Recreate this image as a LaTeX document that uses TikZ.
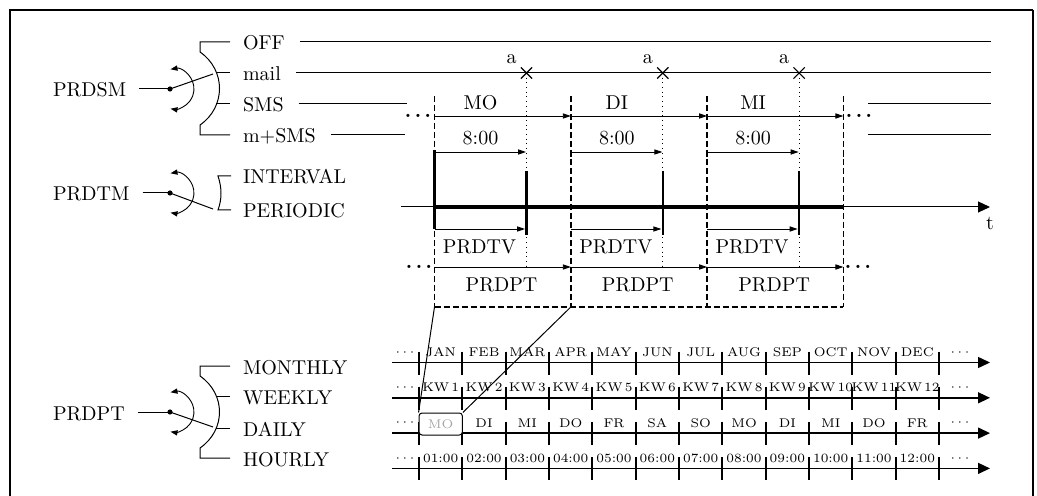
\documentclass[tikz,border=0pt]{standalone}
\usepackage{tikz}
\usetikzlibrary{arrows.meta,positioning,shapes.misc}

\begin{document}
\begin{tikzpicture}[x=0.5pt, y=0.5pt, every node/.style={font=\normalsize},
        wire/.style={line width=0.5pt},
        frame/.style={line width=1.2pt},
        arr/.style={-{Triangle[length=4pt,width=2.6pt]}, line width=0.45pt},
        twoarr/.style={<->, >={Triangle[length=3.5pt,width=2.6pt]}, line width=0.45pt},
        bigarr/.style={-{Triangle[length=6pt,width=5.5pt]}, line width=0.7pt},
        dashline/.style={dash pattern=on 3pt off 1.5pt, line width=0.7pt},
        dotline/.style={dotted, line width=0.35pt},
        bar/.style={line width=1.3pt},
        tick/.style={line width=0.9pt},
        xmark/.style={cross out, draw, line width=0.6pt, minimum size=5pt, inner sep=0pt},
        lbl/.style={anchor=west, text height=8pt, text depth=0pt},
        small/.style={font=\fontsize{6.3}{7}\selectfont, inner sep=0pt},
        dots/.style={anchor=base, inner sep=0pt, font=\fontsize{11}{11}\selectfont\bfseries}]
        \useasboundingbox (0,0) rectangle (1037,-496);
        \draw[frame] (10,-496) -- (10,-10) -- (1033,-10);
        \draw[line width=0.8pt] (1033,-10) -- (1033,-496);

        % switches
        \foreach \nm/\yc/\yk in {PRDSM/89/74, PRDTM/193/209, PRDPT/412/427} {
          \node[lbl] (sw\nm) at (46,-\yc) {\nm};
          \coordinate (dot\nm) at (170,-\yc);
          \coordinate (con\nm) at (213,-\yk);
          \draw[wire] ([xshift=3pt]sw\nm.east) -- (dot\nm);
          \fill (dot\nm) circle (2.6);
          \draw[twoarr] ([shift={(0.5,19.7)}]dot\nm) arc[start angle=100, end angle=-100, radius=20];
          \draw[wire] (dot\nm) -- (con\nm);
        }

        % brackets
        \draw[wire] (230,-42) -- (200,-42) -- (200,-52) .. controls (226,-70) and (226,-107) .. (200,-125) -- (200,-135) -- (230,-135);
        \draw[wire] (216.4,-73) -- (230,-73) (216.4,-104) -- (230,-104);
        \draw[wire] (231,-176) -- (218,-176) .. controls (222,-188) and (222,-199) .. (218,-210) -- (231,-210);
        \draw[wire] (230,-366) -- (200,-366) -- (200,-376) .. controls (226,-394) and (226,-430) .. (200,-448) -- (200,-458) -- (230,-458);
        \draw[wire] (216.4,-396) -- (230,-396) (216.4,-428) -- (230,-428);

        \node[lbl] (off) at (236,-42) {OFF};
        \node[lbl] (mail) at (236,-73) {mail};
        \node[lbl] (sms) at (236,-104) {SMS};
        \node[lbl] (msms) at (236,-135) {m+SMS};
        \node[lbl] (interval) at (236,-176) {INTERVAL};
        \node[lbl] (periodic) at (236,-210) {PERIODIC};
        \node[lbl] (monthly) at (236,-366) {MONTHLY};
        \node[lbl] (weekly) at (236,-396) {WEEKLY};
        \node[lbl] (daily) at (236,-428) {DAILY};
        \node[lbl] (hourly) at (236,-458) {HOURLY};

        % message lines
        \coordinate (offR) at (991,-42);
        \coordinate (mailR) at (991,-73);
        \coordinate (smsA) at (407,-104);
        \coordinate (smsB) at (868,-104);
        \coordinate (smsR) at (991,-104);
        \coordinate (msmsA) at (405,-135);
        \coordinate (msmsB) at (868,-135);
        \coordinate (msmsR) at (991,-135);
        \draw[wire] ([xshift=4pt]off.east) -- (offR);
        \draw[wire] ([xshift=4pt]mail.east) -- (mailR);
        \draw[wire] ([xshift=4pt]sms.east) -- (smsA);
        \draw[wire] (smsB) -- (smsR);
        \draw[wire] ([xshift=4pt]msms.east) -- (msmsA);
        \draw[wire] (msmsB) -- (msmsR);

        % periods
        \foreach \i in {0,...,3} {
          \coordinate (top\i) at ({434.5+136.3*\i},-96);
          \coordinate (bot\i) at ({434.5+136.3*\i},-307);
          \draw[dashline] (top\i) -- (bot\i);
          \draw[tick] ({434.5+136.3*\i},-150) -- ++(0,-7);
        }
        \draw[dashline] (bot0) -- (bot3);

        \coordinate (axL) at (401,-207);
        \coordinate (axR) at (990,-207);
        \draw[bigarr, line width=0.5pt] (axL) -- (axR);
        \draw[line width=1.6pt] (top0 |- axL) -- (top3 |- axL);
        \draw[bar] (434.5,-150) -- (434.5,-229);
        \node (t) at (990,-223) {t};

        \foreach \xa/\d in {434.5/MO, 570.8/DI, 707.1/MI} {
          \draw[dotline] (\xa+92,-73) -- (\xa+92,-267);
          \draw[arr] (\xa,-116) -- (\xa+136.3,-116);
          \node (day\d) at (\xa+46,-103) {\d};
          \draw[arr] (\xa,-152) -- (\xa+91.5,-152);
          \node (hr\d) at (\xa+46,-138) {8:00};
          \node[xmark] (xm\d) at (\xa+92,-73) {};
          \node[above left=0.5pt and 1pt of xm\d, inner sep=1pt] (a\d) {a};
          \draw[bar] (\xa+92,-171) -- (\xa+92,-235);
          \draw[arr] (\xa,-229) -- (\xa+90.5,-229);
          \node (tv\d) at (\xa+45,-247) {PRDTV};
          \draw[arr] (\xa,-267) -- (\xa+136.3,-267);
          \node (pt\d) at (\xa+67,-285) {PRDPT};
        }
        \node[dots] (dotsA) at (418,-118) {.\kern1.5pt.\kern1.5pt.};
        \node[dots] (dotsB) at (859,-118) {.\kern1.5pt.\kern1.5pt.};
        \node[dots] (dotsC) at (419,-269) {.\kern1.5pt.\kern1.5pt.};
        \node[dots] (dotsD) at (858,-269) {.\kern1.5pt.\kern1.5pt.};

        % calendar rows
        \foreach \ry in {362.5,397.8,433.1,468.4} {
          \draw[bigarr] (392,-\ry) -- (990,-\ry);
          \foreach \k in {0,...,12}
            \draw[tick] ({419+43.33*\k},-\ry+11) -- ++(0,-23);
          \node[small] at (405,-\ry+10) {$\cdots$};
          \node[small] at (960,-\ry+10) {$\cdots$};
        }
        \foreach \lab [count=\k from 0] in {JAN,FEB,MAR,APR,MAY,JUN,JUL,AUG,SEP,OCT,NOV,DEC}
          \node[small] (mon\k) at ({440.7+43.33*\k},-352.5) {\lab};
        \foreach \lab [count=\k from 0] in {1,...,12}
          \node[small] (kw\k) at ({440.7+43.33*\k},-387.8) {KW\,\lab};
        \foreach \lab [count=\k from 1] in {DI,MI,DO,FR,SA,SO,MO,DI,MI,DO,FR}
          \node[small] (wd\k) at ({440.7+43.33*\k},-423.1) {\lab};
        \foreach \lab [count=\k from 0] in {01:00,02:00,03:00,04:00,05:00,06:00,07:00,08:00,09:00,10:00,11:00,12:00}
          \node[small] (h\k) at ({440.7+43.33*\k},-458.4) {\lab};

        \node[small, draw, fill=white, rounded corners=1.5pt, minimum width=21.65pt, minimum height=11pt,
          text=gray!70, line width=0.5pt] (cellMO) at (440.7,-424) {MO};
        \draw[wire] (bot0) -- (cellMO.north west);
        \draw[wire] (bot1) -- (cellMO.north east);
      \end{tikzpicture}
\end{document}
